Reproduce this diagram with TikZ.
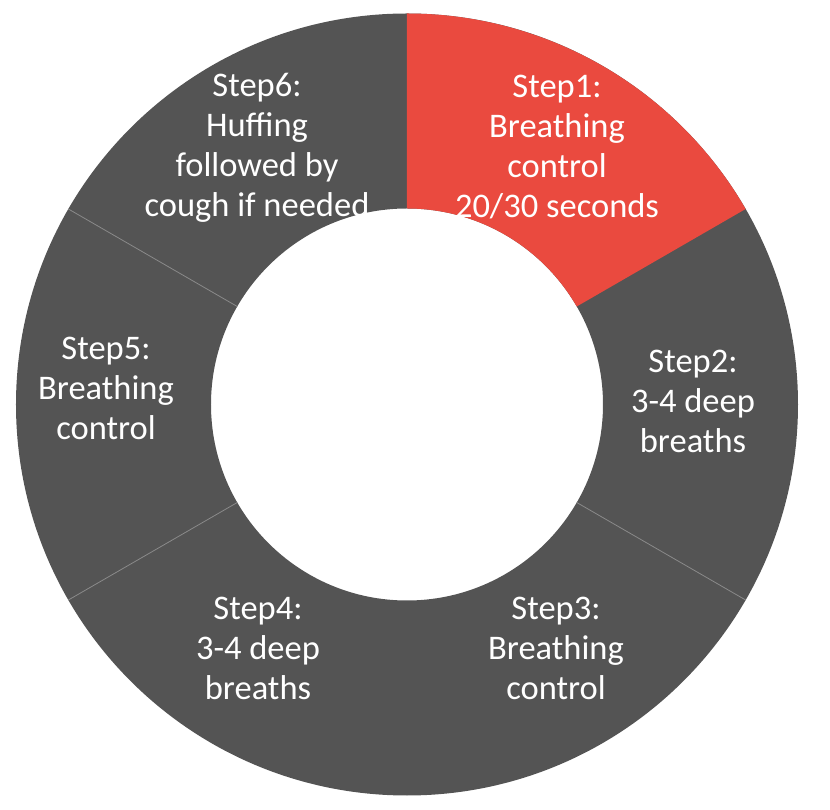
\documentclass[tikz,border=0pt]{standalone}
\usepackage{fontspec}
\setmainfont{Carlito}
\usepackage{tikz}
\usepackage{xcolor}
\usetikzlibrary{positioning}
\definecolor{ringred}{HTML}{EA4A3F}
\definecolor{ringgray}{HTML}{545454}
\definecolor{sepgray}{HTML}{8A8A8A}

\begin{document}
\begin{tikzpicture}[x=1pt,y=1pt,every node/.style={font=\fontsize{34.5}{40}\selectfont}]
   \tikzstyle{lbl}=[align=center, text=white, inner sep=0pt];
   \tikzstyle{sep}=[draw=sepgray, line width=0.8pt];
   \useasboundingbox (-407,-405.5) rectangle (423,404.5);
   % ring
   \fill[ringgray,even odd rule] (0,0) circle (391) (0,0) circle (196);
   \fill[ringred] (90:391) arc[start angle=90,end angle=30,radius=391]
      -- (30:196) arc[start angle=30,end angle=90,radius=196] -- cycle;
   % separators
   \draw[sep] (150:196) -- (150:391);
   \draw[sep] (-150:196) -- (-150:391);
   \draw[sep] (-30:196) -- (-30:391);
   % labels
   \node[lbl] (s1) at (150,257) {Step1:\\Breathing\\control\\20/30 seconds};
   \node[lbl] (s2) at (286,3) {Step2:\\3-4 deep\\breaths};
   \node[lbl] (s3) at (149,-244) {Step3:\\Breathing\\control};
   \node[lbl] (s4) at (-149,-244) {Step4:\\3-4 deep\\breaths};
   \node[lbl] (s5) at (-301,16) {Step5:\\Breathing\\control};
   \node[lbl] (s6) at (-150,257) {Step6:\\Huffing\\followed by\\cough if needed};
  \end{tikzpicture}
\end{document}
